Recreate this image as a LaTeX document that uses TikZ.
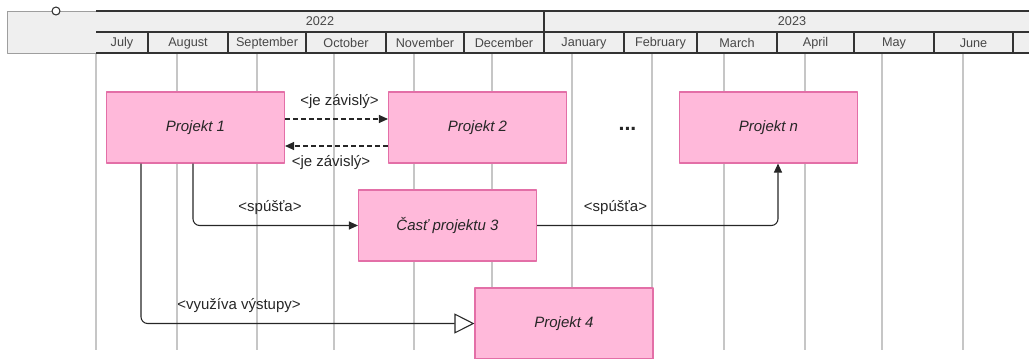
\documentclass[tikz,border=0pt]{standalone}
\usepackage{fontspec}
\setmainfont{Liberation Sans}
\setsansfont{Liberation Sans}
\usepackage{tikz}
\usetikzlibrary{arrows.meta,positioning,calc}
\definecolor{ink}{HTML}{262626}
\definecolor{hdrline}{HTML}{333333}
\definecolor{hdrfill}{HTML}{EFEFEF}
\definecolor{gridcol}{HTML}{C6C6C6}
\definecolor{boxfill}{HTML}{FFB9DA}
\definecolor{boxdraw}{HTML}{E36FA7}

\begin{document}
\begin{tikzpicture}[
  x=0.75pt, y=-0.75pt, font=\sffamily, line join=round,
  hdr/.style={hdrline, line width=1.6pt},
  mon/.style={font=\sffamily\fontsize{9.5}{11}\selectfont, text=ink!85, inner sep=0pt},
  gridln/.style={gridcol, line width=0.8pt},
  proj/.style={draw=boxdraw, fill=boxfill, line width=0.8pt,
               minimum width=133.5pt, minimum height=53.25pt, inner sep=0pt,
               font=\sffamily\itshape\fontsize{11.25}{13}\selectfont, text=ink},
  lbl/.style={font=\sffamily\fontsize{11.25}{13}\selectfont, text=ink, inner sep=0pt},
  dep/.style={-{Triangle[length=6.75pt,width=6pt]}, black!85, line width=0.8pt,
              dash pattern=on 3.75pt off 2.25pt},
  fl/.style={-{Triangle[length=6.75pt,width=6pt]}, black!85, line width=0.8pt,
             rounded corners=5pt},
  uses/.style={-{Triangle[length=15pt,width=15pt,fill=white]}, black!85,
               line width=0.8pt, rounded corners=5pt}]

\path[use as bounding box, clip] (0,0) rectangle (1029,358);

% ================================================================ timeline
\draw[gridcol!80!black, fill=hdrfill, line width=0.6pt] (7,11) rectangle (96,53);
\fill[hdrfill] (96,11) rectangle (1029,53);
\draw[hdr] (96,11) -- (1029,11);
\draw[hdr] (96,32) -- (1029,32);
\draw[hdr] (96,53) -- (1029,53);
\draw[hdr] (544,11) -- (544,53);
\node[circle, draw=hdrline, fill=white, line width=0.8pt, minimum size=6pt,
      inner sep=0pt] (knob) at (56,11) {};

\node[mon] (y2022) at (320,21.5) {2022};
\node[mon] (y2023) at (792,21.5) {2023};

\foreach \a/\b/\m in {96/148/July,148/228/August,228/306/September,
    306/386/October,386/464/November,464/544/December,544/624/January,
    624/697/February,697/777/March,777/854/April,854/934/May,934/1013/June}{
  \draw[hdr] (\b,32) -- (\b,53);
  \node[mon] (mon-\m) at ({(\a+\b)/2},43) {\m};
}

% grid
\foreach \x in {96,177,257,334,414,492,572,652,724,805,882,963}
  \draw[gridln] (\x,54) -- (\x,350);

% ================================================================ projects
\node[proj] (p1) at (195.5,127.5) {Projekt 1};
\node[proj] (p2) at (477.5,127.5) {Projekt 2};
\node[proj] (pn) at (768.5,127.5) {Projekt n};
\node[proj] (p3) at (447.5,225.5) {Časť projektu 3};
\node[proj] (p4) at (564,323.5) {Projekt 4};

\node[font=\sffamily\bfseries\fontsize{16}{18}\selectfont, text=ink, inner sep=0pt]
  (dots) at (627.5,129) {...};

% ================================================================ links
\coordinate (lvA) at (0,119);
\coordinate (lvB) at (0,146);
\coordinate (tA) at (193,0);
\coordinate (tB) at (141,0);
\coordinate (tC) at (778,0);

\draw[dep] (p1.east |- lvA) -- (p2.west |- lvA);
\draw[dep] (p2.west |- lvB) -- (p1.east |- lvB);
\draw[fl] (p1.south -| tA) |- (p3.west);
\draw[fl] (p3.east) -| (pn.south -| tC);
\draw[uses] (p1.south -| tB) |- (p4.west);

\node[lbl] (dep1) at (339.5,102) {<je závislý>};
\node[lbl] (dep2) at (331,163) {<je závislý>};
\node[lbl] (trg1) at (270,208) {<spúšťa>};
\node[lbl] (trg2) at (615.5,208) {<spúšťa>};
\node[lbl] (out4) at (239,306) {<využíva výstupy>};

\end{tikzpicture}
\end{document}
